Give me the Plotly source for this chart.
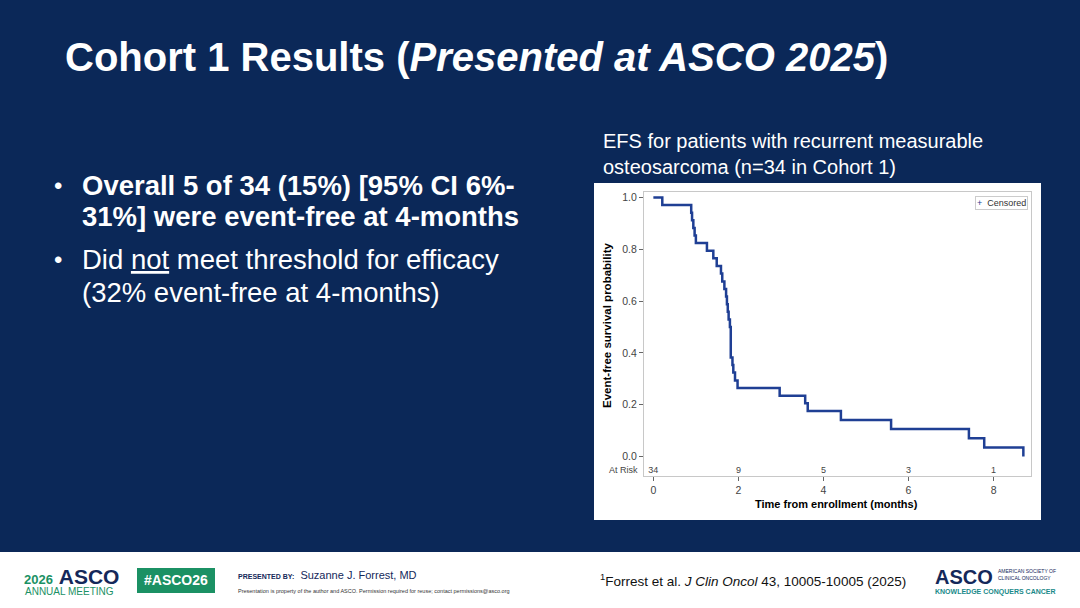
import plotly.graph_objects as go

# Kaplan-Meier step points (months, EFS probability)
efs_months = [0, 0.21, 0.89, 0.91, 0.94, 0.97, 1.00, 1.26, 1.41, 1.49, 1.59,
              1.62, 1.67, 1.71, 1.73, 1.75, 1.77, 1.80, 1.82, 1.86, 1.88,
              1.92, 1.98, 2.97, 3.57, 3.63, 4.41, 5.59, 7.42, 7.78, 8.70]
efs_prob = [1.0, 0.971, 0.941, 0.912, 0.882, 0.853, 0.824, 0.794, 0.765,
            0.735, 0.706, 0.676, 0.647, 0.618, 0.588, 0.559, 0.529, 0.500,
            0.382, 0.353, 0.324, 0.294, 0.265, 0.235, 0.206, 0.176, 0.141,
            0.106, 0.071, 0.035, 0.0]

risk_months = [0, 2, 4, 6, 8]
at_risk = ["34", "9", "5", "3", "1"]

y_ticks = [0.0, 0.2, 0.4, 0.6, 0.8, 1.0]

NAVY = "#0b2858"
LINE = "#1f3f94"
GREEN = "#1b9164"
FONT = "Liberation Sans, Arial, sans-serif"
W, H = 1080, 608


def px(x):
    return x / W


def py(y):
    return 1 - y / H


fig = go.Figure()

fig.add_trace(go.Scatter(
    x=efs_months, y=efs_prob, mode="lines", line_shape="hv",
    line=dict(color=LINE, width=2.5), showlegend=False, hoverinfo="skip",
))
# numbers at risk
fig.add_trace(go.Scatter(
    x=risk_months, y=[-0.054] * len(risk_months), mode="text", text=at_risk,
    textfont=dict(size=9, color="#444", family=FONT), showlegend=False,
    hoverinfo="skip",
))

fig.update_layout(
    width=W, height=H,
    margin=dict(l=0, r=0, t=0, b=0),
    paper_bgcolor=NAVY,
    plot_bgcolor="white",
    font=dict(family=FONT),
    showlegend=False,
    xaxis=dict(
        domain=[px(644), px(1031)], range=[-0.22, 8.88],
        tickvals=risk_months, ticks="outside", ticklen=4, tickcolor="#666",
        tickfont=dict(size=10.5, color="#444"),
        showline=True, mirror=True, linecolor="#c8c8c8", linewidth=1,
        showgrid=False, zeroline=False,
    ),
    yaxis=dict(
        domain=[py(476), py(192)], range=[-0.075, 1.021],
        tickvals=y_ticks, ticktext=[f"{v:.1f}" for v in y_ticks],
        ticks="outside", ticklen=4, tickcolor="#666",
        tickfont=dict(size=10.5, color="#444"),
        showline=True, mirror=True, linecolor="#c8c8c8", linewidth=1,
        showgrid=False, zeroline=False,
    ),
)

# white panel behind the chart and footer band
fig.add_shape(type="rect", xref="paper", yref="paper", layer="below",
              x0=px(594), x1=px(1041), y0=py(520), y1=py(183),
              fillcolor="white", line_width=0)
fig.add_shape(type="rect", xref="paper", yref="paper", layer="below",
              x0=0, x1=1, y0=0, y1=py(552),
              fillcolor="white", line_width=0)
fig.add_shape(type="rect", xref="paper", yref="paper",
              x0=px(137), x1=px(215), y0=py(593), y1=py(568),
              fillcolor=GREEN, line_width=0)

notes = [
    # (x, y, text, size, color, xanchor)
    (63, 57, "<b>Cohort 1 Results (<i>Presented at ASCO 2025</i>)</b>", 40, "white", "left"),
    (52, 185, "•", 24, "white", "left"),
    (80, 185, "<b>Overall 5 of 34 (15%) [95% CI 6%-</b>", 27.5, "white", "left"),
    (80, 216, "<b>31%] were event-free at 4-months</b>", 27.5, "white", "left"),
    (52, 260, "•", 24, "white", "left"),
    (80, 260, "Did <u>not</u> meet threshold for efficacy", 27.5, "white", "left"),
    (80, 292, "(32% event-free at 4-months)", 27.5, "white", "left"),
    (601, 154, "EFS for patients with recurrent measurable<br>osteosarcoma (n=34 in Cohort 1)", 20, "white", "left"),
    (836, 504, "<b>Time from enrollment (months)</b>", 11, "black", "center"),
    (624, 470, "At Risk", 9, "#444", "center"),
    (22, 576, "<span style='color:#1b9164;font-size:13px'><b>2026</b></span> <b>ASCO</b>", 21, "#14285a", "left"),
    (23, 591, "ANNUAL MEETING", 10, GREEN, "left"),
    (176, 580, "<b>#ASCO26</b>", 14, "white", "center"),
    (236, 575, "<span style='font-size:7px'><b>PRESENTED BY:</b></span>  Suzanne J. Forrest, MD", 11, "#14285a", "left"),
    (236, 591, "Presentation is property of the author and ASCO. Permission required for reuse; contact permissions@asco.org",
     5.5, "#333", "left"),
    (598, 580, "<sup>1</sup>Forrest et al. <i>J Clin Oncol</i> 43, 10005-10005 (2025)", 13.5, "#111", "left"),
    (933, 577, "<b>ASCO</b>", 20, "#14285a", "left"),
    (996, 574, "AMERICAN SOCIETY OF<br>CLINICAL ONCOLOGY", 5, "#14285a", "left"),
    (933, 592, "<b>KNOWLEDGE CONQUERS CANCER</b>", 7, "#1a8a8a", "left"),
]
for x, y, text, size, color, anchor in notes:
    fig.add_annotation(x=px(x), y=py(y), xref="paper", yref="paper",
                       text=text, showarrow=False, xanchor=anchor,
                       yanchor="middle", align="left",
                       font=dict(size=size, color=color, family=FONT))

# censored legend box
fig.add_annotation(x=px(1028), y=py(196), xref="paper", yref="paper",
                   xanchor="right", yanchor="top", showarrow=False,
                   text=f"<span style='color:{LINE}'>+</span>  Censored",
                   bgcolor="white", bordercolor="#cccccc", borderwidth=1,
                   borderpad=1, font=dict(size=9, color="#333", family=FONT))

fig.add_annotation(x=px(607), y=py(326), xref="paper", yref="paper",
                   text="<b>Event-free survival probability</b>", textangle=-90,
                   showarrow=False, font=dict(size=11.5, color="black", family=FONT))

fig.write_html("out.html", config={"displayModeBar": False},
               post_script="document.body.style.margin='0';")
